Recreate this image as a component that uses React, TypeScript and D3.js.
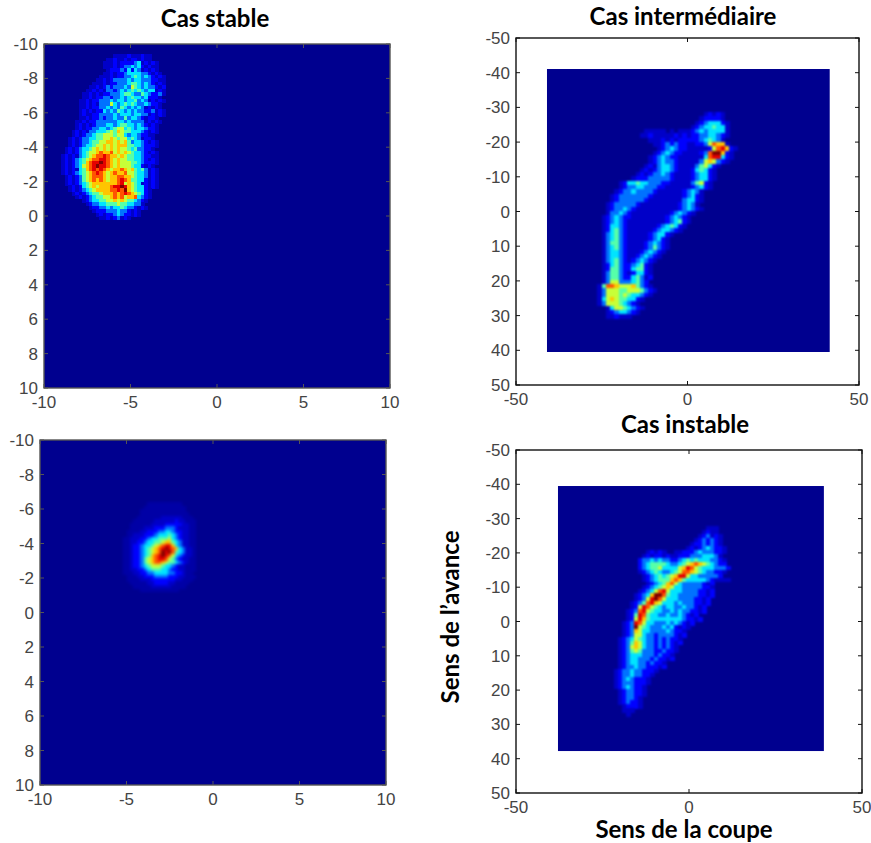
import React from "react";
import * as d3 from "d3";

// Levels: ',' = 0.2, '.' = 0.5, digits 0..9 = colour level
const stableRows = [
"00000000000000000....1...1..0000",
"000000000000000..1..1.11.1..0000",
"00000000000000...1.111123.1.1.00",
"00000000000000...1.1223231.1..00",
"000000000000000.111213132.1.1.00",
"00000000000000..1.1123333221.1.0",
"0000000000000...1.11223432321.1.",
"000000000000..1.12222323322211..",
"00000000000...1.1122234432321.1.",
"0000000000..1.1212223254323221.1",
"000000000..1.1.22123234343233.1.",
"00000000..1.1.11222344322432112.",
"00000000..1.112212232343323111.0",
"0000000..1.1122232332334232.1.1.",
"0000000..1.1.22253234343223211.0",
"0000000..1.112232324323232.1.1.0",
"0000000.1.1.11323243232322112.1.",
"0000000.1..1122223233323322.1.1.",
"0000000..1.112122322423321.11.00",
"000000..1.1122222233232222.1.1.0",
"000000.1.1.1222332344332321.1.00",
"000000.1.11223323455343233211.00",
"00000.1.1.22333454654433321.1.00",
"00000.1.1223445554553233211..000",
"0000.1.122334455654553432.11.000",
"0000.1.12234455665656423321.1.00",
"0000.1.1233455656566644332111.00",
"000.1.1233456565656554342211.00",
"000.1.123455676675656543321.1.00",
"00.1.1.234567787665654433211..00",
"00.1.1234567788765655443321.1.00",
"00.1.123467889876565554432111.00",
"00.1.123567898876565554331.1.000",
"00.1.1.34678787656676564342.1.00",
"00.1.1234567876567667554332.1.00",
"000.1.124567776566776654332.1.00",
"000.1.124567676566787644331.1.00",
"000.1.1234566666667856543.1.1.00",
"0000.1.13456566678898654331.1.00",
"0000.1.12345666677879654331.0000",
"00000.1.1234456667678765431.0000",
"000000.1.123445567675667321.0000",
"00000000.12334455656544321.00000",
"000000000.122334445443322.000000",
"0000000000.1122323343221.1.00000",
"00000000000.1112223221.1.0000000",
"000000000000.1.1123211.1.0000000",
"0000000000000..1.12.1.0000000000",
];

const intermediateRows = [
"0000000000000000000000000.1.1.0000",
"000000000000000000000000.1111.0000",
"00000000000000000000000.123331.000",
"0000000000000000000000.1233433.000",
"00000000000.....0.0...12323333.000",
"0000000000..1.....1.1.11223321.000",
"000000000000...1.1.1111123432.0000",
"0000000000000..121211..1125766.000",
"00000000000000.123211.....157861.0",
"0000000000000.123211....1279961.00",
"000000000000.123211......378831.00",
"000000000000.123221.....256521.000",
"00000000000.1.23321....24531.00000",
"0000000000.1.123321...13431.000000",
"000000000.1.122321....12331.000000",
"00000000.111222221....12331.000000",
"00000.13343322211.....2451.0000000",
"00000.1223322211......1231.0000000",
"0000.122322221......1232.000000000",
"000.122222221.......1231.000000000",
"000.12222221........2331.000000000",
"00.1222221.........1232.0000000000",
"00.122321..........12321.000000000",
"00.22321.........12321.00000000000",
"0.123211........12321.000000000000",
"0.12321.........12341.000000000000",
"0.13321.......123431.0000000000000",
"0.13421......123321.00000000000000",
"0.23421.....12331.0000000000000000",
"0.23421.....1231.00000000000000000",
"0.24421....12321.00000000000000000",
"0.23421....12421.00000000000000000",
"0.23321...12321.000000000000000000",
"0.23321..12321.0000000000000000000",
"0.23421.12321.00000000000000000000",
"0.1342112341.000000000000000000000",
"0.1442113441.000000000000000000000",
"0.24421.1331.00000000000000000000",
"0.244211342.1000000000000000000000",
"0.25522234210000000000000",
".47765556421.000000000000",
".255544555421.0000000000",
".25554543321.000000000",
".356544331.00000000",
".25554321.000000000",
"00.3554321.00000000",
"00.123321.000000000",
"00..1...00000000000",
];

const pointRows = [
"00000000,,,,,,,,,,0000",
"0000000,,,,,,,,,,,,000",
"000000,,,,,,,,,,,,,000",
"000000,,,,,,,,,,,,,,00",
"00000,,,,,,,......,,,0",
"0000,,,,,,......1..,,,",
"000,,,,,,....11111..,,",
"000,,,,...1112221...,,",
"00,,,,..1112233211..,,",
"00,,...11123334321..,,",
"0,,...112334445321..,,",
"0,,..1123344566432..,,",
"0,,.11233456788632..,,",
"0,,.112345678987632..,",
"0,,.112345679897432..,",
"0,,.112346789875321..,",
"0,,.11245678875421..,,",
"0,,.112456776544321.,,",
"0,,.1123455543321..,,,",
"0,,..112344433211..,,,",
"0,,,..112233332211.,,",
"00,,,..1112222111..,,,",
"00,,,,...1111111..,,,0",
"000,,,,,..1111..,,,,00",
"0000,,,,,......,,,,000",
"000000,,,,,,,,,,,00000",
];

const unstableRows = [
"000000000000000000000000000000",
"000000000000000000000000...000",
"00000000000000000000000.1..000",
"0000000000000000000000.12.1.00",
"000000000000000000000.12121.00",
"00000000000000000000.112121.00",
"0000000000000000000.1.123211.0",
"000000000.1.1.00..1112322211.0",
"00000000.1.11.1..1112223332.00",
"0000000122323221123434333221.",
"00000001234444322345676543211",
"000000012344533335687543332221",
"0000000.12343223457765432211.",
"00000000.123434568853322222100",
"00000000.12344467643333321....",
"000000000.12346753222221.10000",
"00000000.1234565332222211.0000",
"0000000.1235785333222211.10000",
"000000.12369974332222211.1000",
"000000.1258975333222211.10000",
"00000.12478653332322211.100000",
"00000.1587543233223221.1000000",
"0000.12785433223232211.100000",
"0000.148743322322321.1000000",
"0000.1586433333333211.1000000",
"000.128753322232321.10000000",
"000.1295432223231.1.000000000",
"000.12653322223211.0000000000",
"000.1255322122221.10000000000",
"00.12354322121211.0000000000",
"00.1246532212121.1000000000",
"00.1256532212121.0000000000",
"00.1245422211211.00000000000",
"00.123332221211.000000000000",
"00.12332221211.1000000000000",
"00.1233221211.00000000000000",
"00.122322111.1000000000000",
"0.122322111.00000000000",
"0.12232211.000000000000",
"0.1232111.00000000000000",
"0.1222111.000000000000",
"0.123211.000000000000",
"00.12211.0000000",
"00.12211.00",
"00.1221.000",
"00.1211.00",
"000.111.0",
"000...0",
"0000.0",
];

const smallTicks = [-10, -8, -6, -4, -2, 0, 2, 4, 6, 8, 10];
const smallXTicks = [-10, -5, 0, 5, 10];
const wideYTicks = [-50, -40, -30, -20, -10, 0, 10, 20, 30, 40, 50];
const wideXTicks = [-50, 0, 50];

const jet = d3
  .scaleLinear<string>()
  .domain([0, 0.11, 0.36, 0.61, 0.86, 1])
  .range(["#00008f", "#0000ff", "#00ffff", "#ffff00", "#ff0000", "#800000"]);

const level = (ch: string) => (ch === "," ? 0.2 : ch === "." ? 0.5 : Number(ch)) / 9;

type PanelProps = {
  id: string;
  left: number; right: number; top: number; bottom: number;
  range: number;
  xTicks: number[]; yTicks: number[];
  image: [number, number, number, number];
  rows: string[];
  originX: number; originY: number; cell: number;
  blur: number;
  frame: string;
};

function Panel(p: PanelProps) {
  const x = d3.scaleLinear().domain([-p.range, p.range]).range([p.left, p.right]);
  const y = d3.scaleLinear().domain([-p.range, p.range]).range([p.top, p.bottom]);
  const [ix0, ix1, iy0, iy1] = p.image;
  const tick = 4;
  return (
    <g>
      <defs>
        <clipPath id={`clip-${p.id}`}>
          <rect x={x(ix0)} y={y(iy0)} width={x(ix1) - x(ix0)} height={y(iy1) - y(iy0)} />
        </clipPath>
        <filter id={`blur-${p.id}`} filterUnits="userSpaceOnUse" x={0} y={0} width={871} height={843} colorInterpolationFilters="sRGB">
          <feGaussianBlur stdDeviation={p.blur} />
        </filter>
      </defs>
      <g clipPath={`url(#clip-${p.id})`}>
        <rect x={x(ix0)} y={y(iy0)} width={x(ix1) - x(ix0)} height={y(iy1) - y(iy0)} fill={jet(0)} />
        <g filter={`url(#blur-${p.id})`} shapeRendering="crispEdges">
          {p.rows.map((row, r) =>
            row.split("").map((ch, c) =>
              ch === "0" ? null : (
                <rect
                  key={`${r}-${c}`}
                  x={x(p.originX + c * p.cell)}
                  y={y(p.originY + r * p.cell)}
                  width={x(p.originX + (c + 1) * p.cell) - x(p.originX + c * p.cell) + 0.5}
                  height={y(p.originY + (r + 1) * p.cell) - y(p.originY + r * p.cell) + 0.5}
                  fill={jet(level(ch))}
                />
              )
            )
          )}
        </g>
      </g>
      <rect x={p.left} y={p.top} width={p.right - p.left} height={p.bottom - p.top} fill="none" stroke={p.frame} strokeWidth={1.4} />
      {p.xTicks.map((t) => (
        <g key={`x${t}`}>
          <line x1={x(t)} x2={x(t)} y1={p.bottom} y2={p.bottom - tick} stroke={p.frame} />
          <line x1={x(t)} x2={x(t)} y1={p.top} y2={p.top + tick} stroke={p.frame} />
          <text x={x(t)} y={p.bottom + 20} textAnchor="middle" fontSize={17} fill="#444" fontFamily="Liberation Sans">{t}</text>
        </g>
      ))}
      {p.yTicks.map((t) => (
        <g key={`y${t}`}>
          <line x1={p.left} x2={p.left + tick} y1={y(t)} y2={y(t)} stroke={p.frame} />
          <line x1={p.right} x2={p.right - tick} y1={y(t)} y2={y(t)} stroke={p.frame} />
          <text x={p.left - 6} y={y(t) + 6} textAnchor="end" fontSize={17} fill="#444" fontFamily="Liberation Sans">{t}</text>
        </g>
      ))}
    </g>
  );
}

const titleStyle = { fontFamily: "Lato", fontWeight: 700, fontSize: 24, fill: "#000" } as const;

export default function App() {
  return (
    <svg width={871} height={843} viewBox="0 0 871 843" style={{ position: "absolute", left: 0, top: 0, background: "#fff" }}>
      <Panel id="a" left={44} right={390} top={44} bottom={388} range={10} xTicks={smallXTicks} yTicks={smallTicks}
        image={[-10, 10, -10, 10]} rows={stableRows} originX={-9.4} originY={-9.4} cell={0.2} blur={0.3} frame="#555" />
      <Panel id="b" left={516} right={859} top={38} bottom={385} range={50} xTicks={wideXTicks} yTicks={wideYTicks}
        image={[-41, 41.5, -41.1, 40.5]} rows={intermediateRows} originX={-26.3} originY={-28.7} cell={1.24} blur={1.2} frame="#111" />
      <Panel id="c" left={40} right={386} top={440} bottom={785} range={10} xTicks={smallXTicks} yTicks={smallTicks}
        image={[-10, 10, -10, 10]} rows={pointRows} originX={-5.4} originY={-6.4} cell={0.2} blur={1.6} frame="#555" />
      <Panel id="d" left={516} right={862} top={450} bottom={793} range={50} xTicks={wideXTicks} yTicks={wideYTicks}
        image={[-37.9, 39, -39.5, 37.8]} rows={unstableRows} originX={-22.8} originY={-29} cell={1.156} blur={1.1} frame="#111" />
      <text x={215} y={27} textAnchor="middle" {...titleStyle}>Cas stable</text>
      <text x={683} y={25} textAnchor="middle" {...titleStyle}>Cas intermédiaire</text>
      <text x={685} y={433} textAnchor="middle" {...titleStyle}>Cas instable</text>
      <text x={684} y={838} textAnchor="middle" {...titleStyle}>Sens de la coupe</text>
      <text transform="translate(459,617) rotate(-90)" textAnchor="middle" {...titleStyle}>Sens de l’avance</text>
    </svg>
  );
}
